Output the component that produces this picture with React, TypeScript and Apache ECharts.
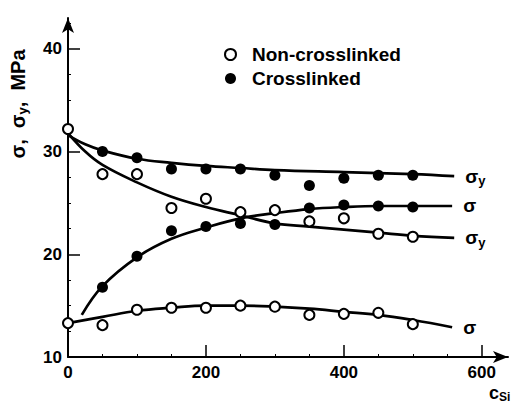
import React, { useEffect, useRef } from "react";
import * as echarts from "echarts";

// ---- data ----
const pointX = [0, 50, 100, 150, 200, 250, 300, 350, 400, 450, 500];
const nonCrossSigmaY = [32.2, 27.8, 27.8, 24.5, 25.4, 24.1, 24.3, 23.2, 23.5, 22.0, 21.7];
const nonCrossSigma = [13.3, 13.1, 14.6, 14.8, 14.8, 15.0, 14.9, 14.1, 14.2, 14.3, 13.2];

const crossX = [50, 100, 150, 200, 250, 300, 350, 400, 450, 500];
const crossSigmaY = [30.0, 29.4, 28.3, 28.3, 28.3, 27.7, 26.7, 27.4, 27.7, 27.7];
const crossSigma = [16.8, 19.8, 22.3, 22.7, 23.0, 22.9, 24.5, 24.8, 24.7, 24.6];

// fitted curves
const crossSigmaYCurveX = [0, 25, 50, 100, 150, 200, 250, 300, 400, 500, 560];
const crossSigmaYCurveY = [31.6, 30.7, 30.1, 29.3, 28.9, 28.6, 28.4, 28.2, 28.0, 27.8, 27.6];

const nonSigmaYCurveX = [0, 25, 50, 100, 150, 200, 250, 300, 350, 400, 450, 500, 560];
const nonSigmaYCurveY = [31.8, 30.0, 28.7, 27.0, 25.6, 24.6, 23.8, 23.0, 22.7, 22.4, 22.1, 21.8, 21.6];

const crossSigmaCurveX = [20, 50, 100, 150, 200, 250, 300, 350, 400, 450, 500, 557];
const crossSigmaCurveY = [14.1, 16.9, 19.7, 21.5, 22.6, 23.5, 24.0, 24.4, 24.6, 24.7, 24.7, 24.7];

const nonSigmaCurveX = [0, 50, 100, 150, 200, 250, 300, 350, 400, 450, 500, 557];
const nonSigmaCurveY = [13.3, 13.9, 14.5, 14.8, 15.0, 15.0, 14.9, 14.7, 14.4, 14.1, 13.6, 12.9];

const xTickValues = [0, 200, 400, 600];
const yTickValues = [10, 20, 30, 40];

const legendNames = ["Non-crosslinked", "Crosslinked"];
const curveLabels = ["σy", "σ", "σy", "σ"];

const FONT = "'Liberation Sans', Arial, sans-serif";

const zip = (xs: number[], ys: number[]) => xs.map((x, i) => [x, ys[i]]);

export default function App() {
  const ref = useRef<HTMLDivElement>(null);

  useEffect(() => {
    if (!ref.current) return;
    const chart = echarts.init(ref.current, undefined, { renderer: "svg" });

    const labelRich = {
      a: { fontSize: 19, fontWeight: "bold", fontFamily: FONT, color: "#000" },
      b: { fontSize: 13, fontWeight: "bold", fontFamily: FONT, color: "#000", padding: [9, 0, 0, 0] },
    };
    const fmt = (t: string) => (t === "σy" ? "{a|σ}{b|y}" : "{a|σ}");

    const curve = (name: string, xs: number[], ys: number[], lbl: string) => ({
      type: "line",
      name,
      data: zip(xs, ys),
      smooth: 0.4,
      showSymbol: false,
      silent: true,
      z: 2,
      lineStyle: { color: "#000", width: 2.7 },
      endLabel: {
        show: true,
        distance: 11,
        formatter: fmt(lbl),
        rich: labelRich,
      },
    });

    const axisText = { color: "#000", fontSize: 17, fontWeight: "bold", fontFamily: FONT };

    chart.setOption({
      animation: false,
      backgroundColor: "#fff",
      grid: { left: 68, right: 6, top: 18, bottom: 50 },
      xAxis: {
        type: "value",
        min: 0,
        max: 638,
        interval: 200,
        axisLine: {
          show: true,
          lineStyle: { color: "#000", width: 2 },
          symbol: ["none", "arrow"],
          symbolSize: [9, 15],
        },
        axisTick: {
          show: true,
          inside: true,
          length: 12,
          lineStyle: { color: "#000", width: 1.5 },
          customValues: xTickValues,
        },
        minorTick: { show: true, splitNumber: 4, length: 3, lineStyle: { color: "#000", width: 1 } },
        axisLabel: { customValues: xTickValues, margin: 7, ...axisText },
        splitLine: { show: false },
      },
      yAxis: {
        type: "value",
        min: 10,
        max: 43,
        interval: 10,
        axisLine: {
          show: true,
          lineStyle: { color: "#000", width: 2 },
          symbol: ["none", "arrow"],
          symbolSize: [9, 15],
        },
        axisTick: {
          show: true,
          inside: true,
          length: 12,
          lineStyle: { color: "#000", width: 1.5 },
          customValues: yTickValues,
        },
        minorTick: { show: true, splitNumber: 4, length: 3, lineStyle: { color: "#000", width: 1 } },
        axisLabel: { customValues: yTickValues, margin: 6, ...axisText },
        splitLine: { show: false },
      },
      legend: {
        data: legendNames,
        orient: "vertical",
        left: 219,
        top: 40,
        itemWidth: 11,
        itemHeight: 11,
        itemGap: 5,
        icon: "circle",
        textStyle: {
          color: "#000",
          fontSize: 19,
          fontWeight: "bold",
          fontFamily: FONT,
          padding: [0, 0, 0, 11],
        },
      },
      graphic: [
        {
          type: "text",
          x: 18,
          y: 104,
          rotation: Math.PI / 2,
          style: {
            text: "{a|σ,  σ}{s|y}{a|,  MPa}",
            align: "center",
            verticalAlign: "middle",
            rich: {
              a: { fontSize: 20, fontWeight: "bold", fontFamily: FONT, fill: "#000" },
              s: { fontSize: 13, fontWeight: "bold", fontFamily: FONT, fill: "#000", padding: [9, 0, 0, 0] },
            },
          },
        },
        {
          type: "text",
          x: 489,
          y: 383,
          style: {
            text: "{a|c}{s|Si}",
            rich: {
              a: { fontSize: 18, fontWeight: "bold", fontFamily: FONT, fill: "#000" },
              s: { fontSize: 12, fontWeight: "bold", fontFamily: FONT, fill: "#000", padding: [8, 0, 0, 0] },
            },
          },
        },
      ],
      series: [
        curve("σy crosslinked", crossSigmaYCurveX, crossSigmaYCurveY, curveLabels[0]),
        curve("σ crosslinked", crossSigmaCurveX, crossSigmaCurveY, curveLabels[1]),
        curve("σy non-crosslinked", nonSigmaYCurveX, nonSigmaYCurveY, curveLabels[2]),
        curve("σ non-crosslinked", nonSigmaCurveX, nonSigmaCurveY, curveLabels[3]),
        {
          type: "scatter",
          name: legendNames[0],
          z: 4,
          symbol: "circle",
          symbolSize: 10,
          itemStyle: { color: "#fff", borderColor: "#000", borderWidth: 2, opacity: 1 },
          data: [...zip(pointX, nonCrossSigmaY), ...zip(pointX, nonCrossSigma)],
        },
        {
          type: "scatter",
          name: legendNames[1],
          z: 4,
          symbol: "circle",
          symbolSize: 11,
          itemStyle: { color: "#000", opacity: 1 },
          data: [...zip(crossX, crossSigmaY), ...zip(crossX, crossSigma)],
        },
      ],
    });

    return () => chart.dispose();
  }, []);

  return (
    <div
      ref={ref}
      style={{ position: "fixed", left: 0, top: 0, width: 514, height: 407, background: "#fff" }}
    />
  );
}
